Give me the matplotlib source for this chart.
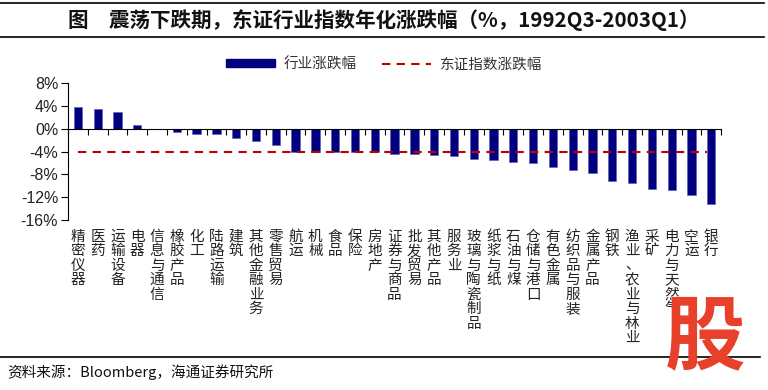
import matplotlib.pyplot as plt
from matplotlib.transforms import blended_transform_factory
import matplotlib.lines as mlines
import numpy as np

plt.rcParams['font.family'] = ['Noto Sans CJK SC', 'DejaVu Sans']

# Dados
industrias = ['精密仪器', '医药', '运输设备', '电器', '信息与通信', '橡胶产品', '化工',
              '陆路运输', '建筑', '其他金融业务', '零售贸易', '航运', '机械', '食品',
              '保险', '房地产', '证券与商品', '批发贸易', '其他产品', '服务业',
              '玻璃与陶瓷制品', '纸浆与纸', '石油与煤', '仓储与港口', '有色金属',
              '纺织品与服装', '金属产品', '钢铁', '渔业、农业与林业', '采矿',
              '电力与天然气', '空运', '银行']
variacao = [3.8, 3.4, 3.0, 0.6, -0.1, -0.6, -0.9, -1.0, -1.6, -2.2, -2.8, -4.0, -4.0,
            -4.0, -4.1, -4.1, -4.4, -4.5, -4.6, -4.8, -5.3, -5.4, -5.8, -6.0, -6.8,
            -7.2, -7.7, -9.2, -9.5, -10.6, -10.8, -11.6, -13.2]
indice_dz = -4.0
yticks = [-16, -12, -8, -4, 0, 4, 8]

azul = '#000080'
vermelho = '#C00000'

fig = plt.figure(figsize=(7.68, 3.9), dpi=100)
ax = fig.add_axes([0.0885, 0.436, 0.8505, 0.351])

x = np.arange(len(industrias))
ax.bar(x, variacao, width=0.42, color=azul, edgecolor='#5a5ab0', linewidth=0.4, zorder=2)
ax.plot([x[0], x[-1] - 0.2], [indice_dz, indice_dz], color=vermelho, lw=1.5,
        dashes=(4, 3), zorder=3)

ax.set_xlim(-0.5, len(industrias) - 0.5)
ax.set_ylim(min(yticks), max(yticks))
ax.set_yticks(yticks)
ax.set_yticklabels([f'{v}%' for v in yticks], family='Liberation Sans', fontsize=11.5,
                   color='#222222')
ax.tick_params(axis='y', direction='out', length=5, width=0.8, pad=2)

# eixo x passando pelo zero, marcas entre as categorias
ax.spines['bottom'].set_position(('data', 0))
ax.spines['top'].set_visible(False)
ax.spines['right'].set_visible(False)
ax.set_xticks(np.arange(len(industrias) + 1) - 0.5)
ax.set_xticklabels([])
ax.tick_params(axis='x', direction='out', length=4, width=0.8)

trans = blended_transform_factory(ax.transData, ax.transAxes)
for xi, nome in zip(x, industrias):
    ax.text(xi, -0.07, '\n'.join(nome), transform=trans, ha='center', va='top',
            fontsize=10.5, linespacing=1.05, color='#222222')

# legenda
h1 = plt.Rectangle((0, 0), 1, 1, color=azul)
h2 = mlines.Line2D([], [], color=vermelho, lw=1.5, dashes=(4, 3))
fig.legend([h1, h2], ['行业涨跌幅', '东证指数涨跌幅'], loc='center',
           bbox_to_anchor=(0.5, 0.835), ncol=2, frameon=False, fontsize=10.5,
           handlelength=3.4, handletextpad=0.6, columnspacing=1.7, handleheight=0.5,
           labelcolor='#333333')

# titulo e linhas
fig.text(0.088, 0.948, '图　震荡下跌期，东证行业指数年化涨跌幅（%，1992Q3-2003Q1）',
         fontsize=14.8, fontweight='bold', va='center', ha='left', color='#111111')
fig.add_artist(mlines.Line2D([0.0, 0.995], [0.992, 0.992], color='black', lw=1.2))
fig.add_artist(mlines.Line2D([0.0, 0.995], [0.904, 0.904], color='black', lw=1.2))
fig.add_artist(mlines.Line2D([0.0, 0.99], [0.085, 0.085], color='black', lw=1.2))

fig.text(0.01, 0.045, '资料来源：Bloomberg，海通证券研究所', fontsize=10.5, va='center',
         ha='left', color='#111111')

fig.text(0.918, 0.13, '股', fontsize=58, fontweight='heavy', color='#E8402A',
         ha='center', va='center', style='italic')

fig.savefig('out.png', dpi=100)
